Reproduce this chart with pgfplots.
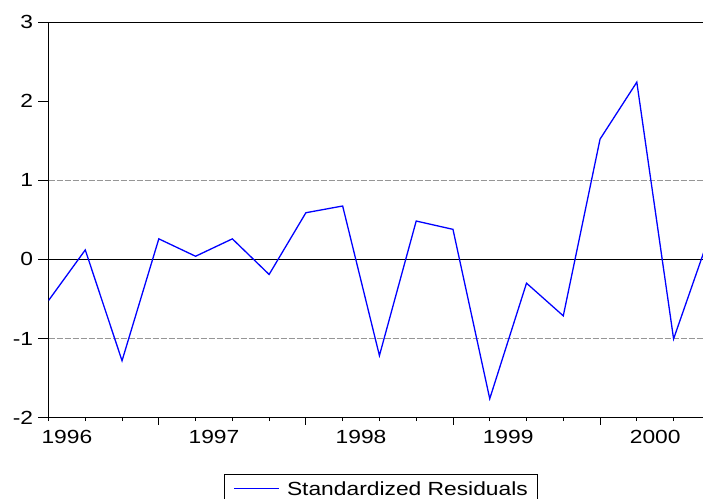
\documentclass[border=0pt]{standalone}
\usepackage{fontspec}
\setmainfont{Liberation Sans}[FakeStretch=1.2]
\usepackage{pgfplots}
\pgfplotsset{compat=1.18}
\definecolor{resblue}{RGB}{0,0,255}
\definecolor{refgray}{RGB}{150,150,150}

\begin{document}
\begin{tikzpicture}[font=\fontsize{19bp}{22bp}\selectfont]
\useasboundingbox (0,0) rectangle (703bp,-499bp);
\clip (0,0) rectangle (703bp,-499bp);
\begin{axis}[
    at={(48.5bp,-22bp)}, anchor=north west,
    scale only axis, width=654.5bp, height=395.7bp,
    xmin=0, xmax=17.8, ymin=-2, ymax=3,
    axis x line*=box, axis y line*=left,
    axis line style={black, line width=0.9bp},
    tick align=outside,
    xtick pos=bottom, ytick pos=left,
    tick style={black, line width=0.9bp},
    major tick length=10bp,
    minor tick length=3.5bp,
    xtick={0.5,4.5,8.5,12.5,16.5},
    xticklabels={1996,1997,1998,1999,2000},
    major x tick style={draw=none},
    minor xtick={0,1,2,4,5,6,8,9,10,12,13,14,16,17},
    extra x ticks={3,7,11,15},
    extra x tick labels={},
    extra x tick style={major tick length=7bp, major x tick style={draw=black}},
    ytick={-2,-1,0,1,2,3},
    /pgf/number format/assume math mode=true,
    xticklabel style={inner sep=0pt, yshift=-2.3bp},
    yticklabel style={inner sep=0pt, xshift=-5.2bp},
    legend style={at={(0.2681,-0.1431)}, anchor=north west,
        draw=black, line width=0.9bp, inner xsep=9.3bp, inner ysep=6.5bp,
        nodes={inner sep=0pt, anchor=base west},
        /tikz/every odd column/.style={column sep=7bp}},
    legend image code/.code={\draw[#1] (0bp,6.8bp) -- (45bp,6.8bp);},
]
% reference lines at +1 / -1 and the zero line
\draw[refgray, line width=0.9bp, dash pattern=on 6bp off 2bp]
    ({rel axis cs:0,0}|-{axis cs:0,1}) -- ({rel axis cs:1,0}|-{axis cs:0,1});
\draw[refgray, line width=0.9bp, dash pattern=on 6bp off 2bp]
    ({rel axis cs:0,0}|-{axis cs:0,-1}) -- ({rel axis cs:1,0}|-{axis cs:0,-1});
\draw[black, line width=0.9bp]
    ({rel axis cs:0,0}|-{axis cs:0,0}) -- ({rel axis cs:1,0}|-{axis cs:0,0});

\addplot[resblue, line width=1.3bp, mark=none] coordinates {
    (0,-0.52) (1,0.12) (2,-1.28) (3,0.26) (4,0.04) (5,0.26)
    (6,-0.19) (7,0.59) (8,0.675) (9,-1.215) (10,0.485) (11,0.38)
    (12,-1.76) (13,-0.30) (14,-0.713) (15,1.52) (16,2.24) (17,-1.004)
    (18,0.33)
};
\addlegendentry{Standardized Residuals}
\end{axis}
\end{tikzpicture}
\end{document}
